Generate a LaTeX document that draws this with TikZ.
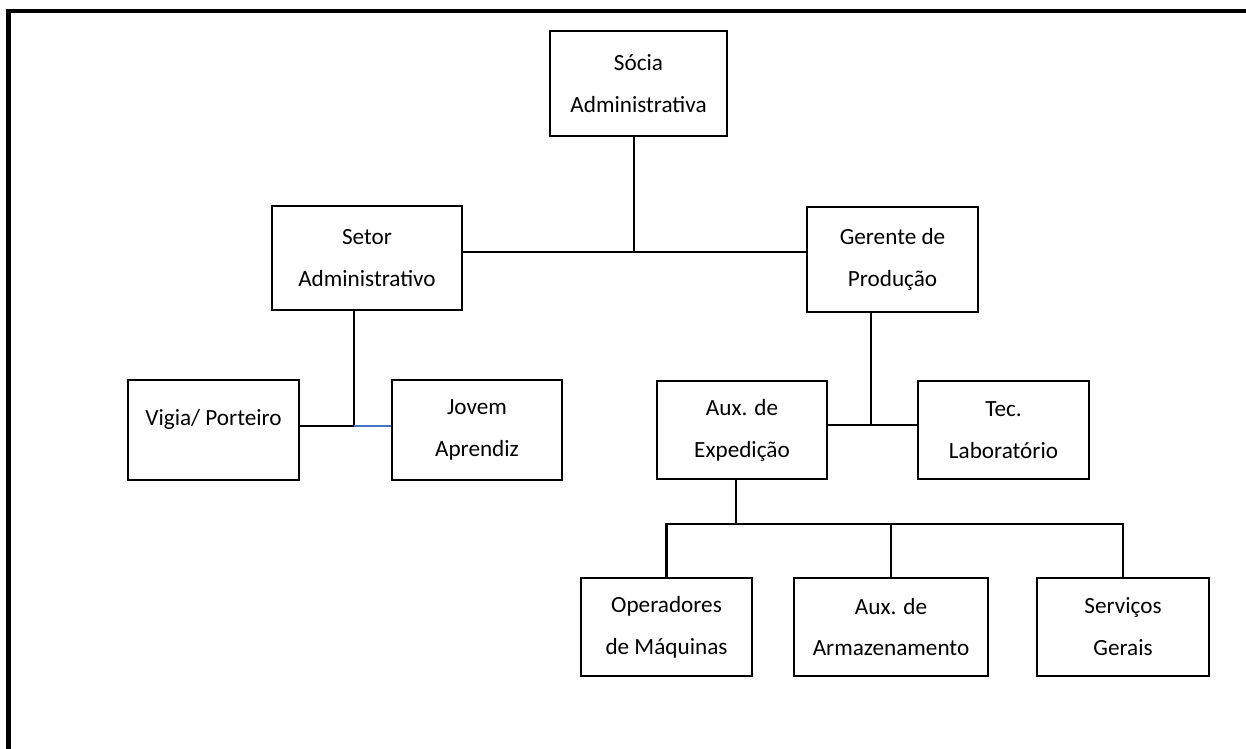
\documentclass[tikz,border=0pt]{standalone}
\usepackage{fontspec}
\setmainfont{Carlito}
\usepackage{xcolor}
\definecolor{linkblue}{RGB}{68,114,196}

\tikzset{
  orgbox/.style={draw, line width=1.5pt, align=center, inner sep=0pt,
    font=\fontsize{13.2}{23.8}\selectfont},
  link/.style={line width=1.3pt},
  bluelink/.style={line width=1.3pt, draw=linkblue}
}

\begin{document}
\begin{tikzpicture}[x=0.02cm, y=-0.02cm]
    \useasboundingbox (0,0) rectangle (1246,749);
    \draw[line width=2.6pt] (8.5,760) -- (8.5,11) -- (1260,11);

    % boxes
    \node[orgbox, minimum width=3.54cm, minimum height=2.10cm] (socia) at (638.5,83.5) {Sócia\\Administrativa};
    \node[orgbox, minimum width=3.80cm, minimum height=2.08cm] (setor) at (367,258) {Setor\\Administrativo};
    \node[orgbox, minimum width=3.42cm, minimum height=2.10cm] (gerente) at (892.5,259.5) {Gerente de\\Produção};
    \node[orgbox, minimum width=3.42cm, minimum height=2.00cm] (vigia) at (213.5,430) {\raisebox{6pt}[\height][\depth]{Vigia/ Porteiro}};
    \node[orgbox, minimum width=3.40cm, minimum height=2.00cm] (jovem) at (477,430) {Jovem\\Aprendiz};
    \node[orgbox, minimum width=3.40cm, minimum height=1.96cm] (auxexp) at (742,430) {Aux. de\\Expedição};
    \node[orgbox, minimum width=3.42cm, minimum height=1.96cm] (tec) at (1003.5,430) {Tec.\\Laboratório};
    \node[orgbox, minimum width=3.42cm, minimum height=1.96cm] (oper) at (666.5,627) {Operadores\\de Máquinas};
    \node[orgbox, minimum width=3.88cm, minimum height=1.96cm] (armaz) at (891,627) {Aux. de\\Armazenamento};
    \node[orgbox, minimum width=3.44cm, minimum height=1.96cm] (serv) at (1123,627) {Serviços\\Gerais};

    % junctions
    \coordinate (j1) at (634,252);
    \coordinate (j2) at (354,426);
    \coordinate (j3) at (871,425);
    \coordinate (j4) at (736,524);

    % connectors
    \draw[link] (socia.south -| j1) -- (j1);
    \draw[link] (setor.east |- j1) -- (gerente.west |- j1);
    \draw[link] (setor.south -| j2) -- (j2);
    \draw[link] (vigia.east |- j2) -- (j2);
    \draw[bluelink] (j2) -- (jovem.west |- j2);
    \draw[link] (gerente.south -| j3) -- (j3);
    \draw[link] (auxexp.east |- j3) -- (tec.west |- j3);
    \draw[link] (auxexp.south -| j4) -- (j4);
    \draw[link] (oper.north) |- (j4) -| (serv.north);
    \draw[link] (armaz.north) -- (armaz.north |- j4);
\end{tikzpicture}
\end{document}
